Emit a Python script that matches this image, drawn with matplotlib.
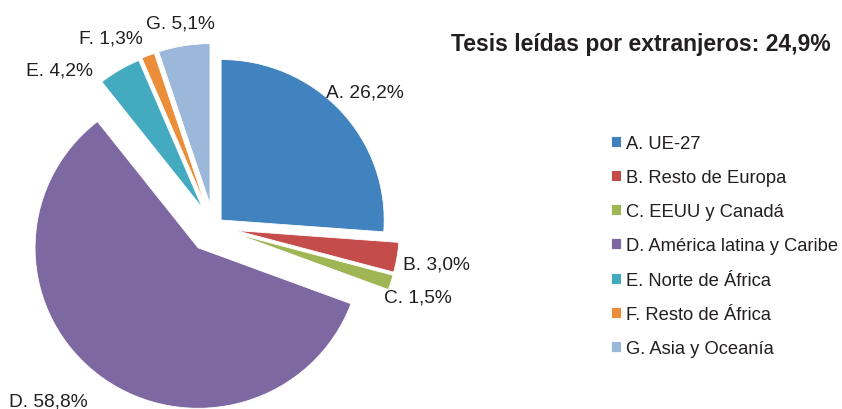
import matplotlib
matplotlib.use("Agg")
import matplotlib.pyplot as plt

plt.rcParams['font.family'] = ['Liberation Sans', 'DejaVu Sans']

# ---- data ----
categories = ["A. UE-27", "B. Resto de Europa", "C. EEUU y Canadá",
              "D. América latina y Caribe", "E. Norte de África",
              "F. Resto de África", "G. Asia y Oceanía"]
letters = ["A", "B", "C", "D", "E", "F", "G"]
values = [26.2, 3.0, 1.5, 58.8, 4.2, 1.3, 5.1]
value_labels = ["A. 26,2%", "B. 3,0%", "C. 1,5%", "D. 58,8%", "E. 4,2%", "F. 1,3%", "G. 5,1%"]
title = "Tesis leídas por extranjeros: 24,9%"

# ---- style / layout ----
colors = ["#4183BE", "#C44D4B", "#A0B655", "#7D68A1", "#44AABF", "#EA8E3A", "#9BB8DA"]
explode_frac = [0.062, 0.14, 0.14, 0.162, 0.135, 0.14, 0.143]
W, H = 842, 410
sx = 1.016          # horizontal stretch of the pie
R = 160.5
center_px = (213.7, 227.8)
# label positions in pixels (left x, baseline y)
label_pos = [(326, 97.7), (403, 269.3), (384, 302.7), (9, 406.5), (26, 75.3), (79, 43.3), (146, 28.7)]

fig = plt.figure(figsize=(W / 100, H / 100), dpi=100)
ax = fig.add_axes([0, 0, 1, 1])
wedges, _ = ax.pie(values, explode=[e * R for e in explode_frac], colors=colors,
                   startangle=90, counterclock=False, radius=R,
                   center=(center_px[0] / sx, H - center_px[1]),
                   wedgeprops=dict(edgecolor="white", linewidth=0.6))
ax.set_aspect('auto')
ax.set_xlim(0, W / sx)
ax.set_ylim(0, H)
ax.axis('off')

for txt, (px, py) in zip(value_labels, label_pos):
    fig.text(px / W, 1 - py / H, txt, fontsize=13.8, color="#231F20",
             ha="left", va="baseline")

fig.text(640.5 / W, 1 - 50.7 / H, title, fontsize=16.5, fontweight="bold",
         color="#231F20", ha="center", va="baseline")

leg = fig.legend(wedges, categories, loc="upper left",
                 bbox_to_anchor=(611 / W, 1 - 136.3 / H),
                 frameon=False, fontsize=13.2, handlelength=0.546,
                 handleheight=0.546, handletextpad=0.25, labelspacing=0.93,
                 borderpad=0, borderaxespad=0)
for t in leg.get_texts():
    t.set_color("#231F20")

fig.savefig("out.png", dpi=100)
